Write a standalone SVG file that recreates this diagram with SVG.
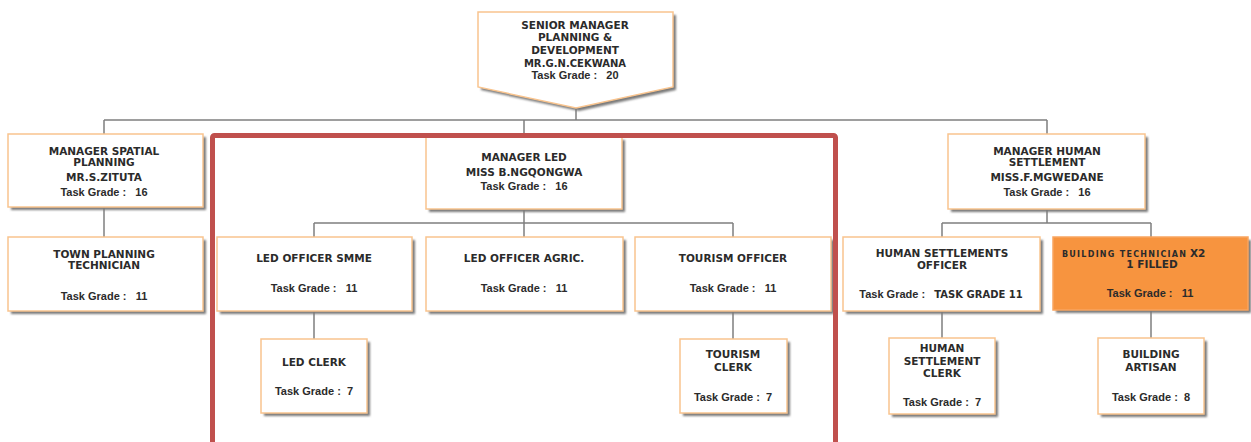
<svg xmlns="http://www.w3.org/2000/svg" width="1251" height="442" viewBox="0 0 1251 442">
<defs>
<filter id="sh" x="-10%" y="-10%" width="130%" height="130%"><feGaussianBlur stdDeviation="1"/></filter>
</defs>
<style>
.sh{fill:#7a7a7a;filter:url(#sh)}
.bx{fill:#ffffff;stroke:#f9c48e;stroke-width:1.5}
.or{fill:#f7943f;stroke:#f9a560;stroke-width:1.5}
.t{font-family:"DejaVu Sans",Verdana,sans-serif;font-weight:bold;font-size:10.5px;fill:#2b2b2b;text-anchor:middle}
.g{font-family:"Liberation Sans",Arial,sans-serif;font-weight:bold;font-size:11px;fill:#2b2b2b;text-anchor:middle}
.c{fill:none;stroke:#7f7f7f;stroke-width:1.5}
</style>
<rect width="1251" height="442" fill="#ffffff"/>
<g id="connectors">
<path class="c" d="M576 108V120M104 120H1047M104 120V134M524 120V137M1047 120V134"/>
<path class="c" d="M104 207V237"/>
<path class="c" d="M524 209V223M314 223H733M314 223V237M524 223V237M733 223V237"/>
<path class="c" d="M1047 209V223M942 223H1151M942 223V237M1151 223V237"/>
<path class="c" d="M314 311V339M733 311V339M942 311V338M1151 310V338"/>
</g>
<g id="senior-manager">
<polygon class="sh" points="481,15 676,15 676,90 579,111 481,90"/>
<polygon class="bx" points="478,12 673,12 673,87 576,108 478,87"/>
<text class="t" x="575" y="29">SENIOR MANAGER</text>
<text class="t" x="575" y="41">PLANNING &amp;</text>
<text class="t" x="575" y="54">DEVELOPMENT</text>
<text class="t" x="575" y="67" style="font-size:10px">MR.G.N.CEKWANA</text>
<text class="g" x="575" y="79" xml:space="preserve">Task Grade :   20</text>
</g>
<g id="manager-spatial">
<rect class="sh" x="11" y="137" width="195" height="73"/>
<rect class="bx" x="8" y="134" width="195" height="73"/>
<text class="t" x="104" y="155">MANAGER SPATIAL</text>
<text class="t" x="104" y="166">PLANNING</text>
<text class="t" x="104" y="181">MR.S.ZITUTA</text>
<text class="g" x="104" y="196" xml:space="preserve">Task Grade :   16</text>
</g>
<g id="town-planning">
<rect class="sh" x="11" y="240" width="195" height="74"/>
<rect class="bx" x="8" y="237" width="195" height="74"/>
<text class="t" x="104" y="258">TOWN PLANNING</text>
<text class="t" x="104" y="269">TECHNICIAN</text>
<text class="g" x="104" y="300" xml:space="preserve">Task Grade :   11</text>
</g>
<g id="manager-led">
<rect class="sh" x="429" y="140" width="196" height="72"/>
<rect class="bx" x="426" y="137" width="196" height="72"/>
<text class="t" x="524" y="161">MANAGER LED</text>
<text class="t" x="524" y="176">MISS B.NGQONGWA</text>
<text class="g" x="524" y="190" xml:space="preserve">Task Grade :   16</text>
</g>
<g id="led-officer-smme">
<rect class="sh" x="220" y="240" width="195" height="74"/>
<rect class="bx" x="217" y="237" width="195" height="74"/>
<text class="t" x="314" y="262">LED OFFICER SMME</text>
<text class="g" x="314" y="292" xml:space="preserve">Task Grade :   11</text>
</g>
<g id="led-officer-agric">
<rect class="sh" x="429" y="240" width="197" height="74"/>
<rect class="bx" x="426" y="237" width="197" height="74"/>
<text class="t" x="524" y="262">LED OFFICER AGRIC.</text>
<text class="g" x="524" y="292" xml:space="preserve">Task Grade :   11</text>
</g>
<g id="tourism-officer">
<rect class="sh" x="638" y="240" width="196" height="74"/>
<rect class="bx" x="635" y="237" width="196" height="74"/>
<text class="t" x="733" y="262">TOURISM OFFICER</text>
<text class="g" x="733" y="292" xml:space="preserve">Task Grade :   11</text>
</g>
<g id="led-clerk">
<rect class="sh" x="264" y="342" width="106" height="74"/>
<rect class="bx" x="261" y="339" width="106" height="74"/>
<text class="t" x="314" y="366">LED CLERK</text>
<text class="g" x="314" y="395" xml:space="preserve">Task Grade :  7</text>
</g>
<g id="tourism-clerk">
<rect class="sh" x="683" y="342" width="107" height="74"/>
<rect class="bx" x="680" y="339" width="107" height="74"/>
<text class="t" x="733" y="358">TOURISM</text>
<text class="t" x="733" y="371">CLERK</text>
<text class="g" x="733" y="401" xml:space="preserve">Task Grade :  7</text>
</g>
<g id="manager-human-settlement">
<rect class="sh" x="951" y="137" width="197" height="75"/>
<rect class="bx" x="948" y="134" width="197" height="75"/>
<text class="t" x="1047" y="155">MANAGER HUMAN</text>
<text class="t" x="1047" y="166">SETTLEMENT</text>
<text class="t" x="1047" y="181">MISS.F.MGWEDANE</text>
<text class="g" x="1047" y="196" xml:space="preserve">Task Grade :   16</text>
</g>
<g id="human-settlements-officer">
<rect class="sh" x="846" y="240" width="197" height="74"/>
<rect class="bx" x="843" y="237" width="197" height="74"/>
<text class="t" x="942" y="257">HUMAN SETTLEMENTS</text>
<text class="t" x="942" y="269">OFFICER</text>
<text class="g" x="941" y="298" xml:space="preserve">Task Grade :   <tspan style="font-family:'DejaVu Sans',sans-serif;font-size:10px">TASK GRADE 11</tspan></text>
</g>
<g id="building-technician">
<rect class="sh" x="1056" y="240" width="195" height="73"/>
<rect class="or" x="1053" y="237" width="195" height="73"/>
<text class="t" x="1062" y="257" style="text-anchor:start;font-size:8px" textLength="124" lengthAdjust="spacing">BUILDING TECHNICIAN</text>
<text class="t" x="1190" y="257" style="text-anchor:start">X2</text>
<text class="t" x="1152" y="268">1 FILLED</text>
<text class="g" x="1150" y="297" xml:space="preserve">Task Grade :   11</text>
</g>
<g id="human-settlement-clerk">
<rect class="sh" x="892" y="341" width="106" height="76"/>
<rect class="bx" x="889" y="338" width="106" height="76"/>
<text class="t" x="942" y="352">HUMAN</text>
<text class="t" x="942" y="365">SETTLEMENT</text>
<text class="t" x="942" y="377">CLERK</text>
<text class="g" x="942" y="406" xml:space="preserve">Task Grade :  7</text>
</g>
<g id="building-artisan">
<rect class="sh" x="1101" y="341" width="106" height="76"/>
<rect class="bx" x="1098" y="338" width="106" height="76"/>
<text class="t" x="1151" y="358">BUILDING</text>
<text class="t" x="1151" y="371">ARTISAN</text>
<text class="g" x="1151" y="401" xml:space="preserve">Task Grade :  8</text>
</g>
<rect id="highlight" x="212.5" y="135.5" width="623" height="330" rx="2" fill="none" stroke="#c0504d" stroke-width="5"/>
</svg>
